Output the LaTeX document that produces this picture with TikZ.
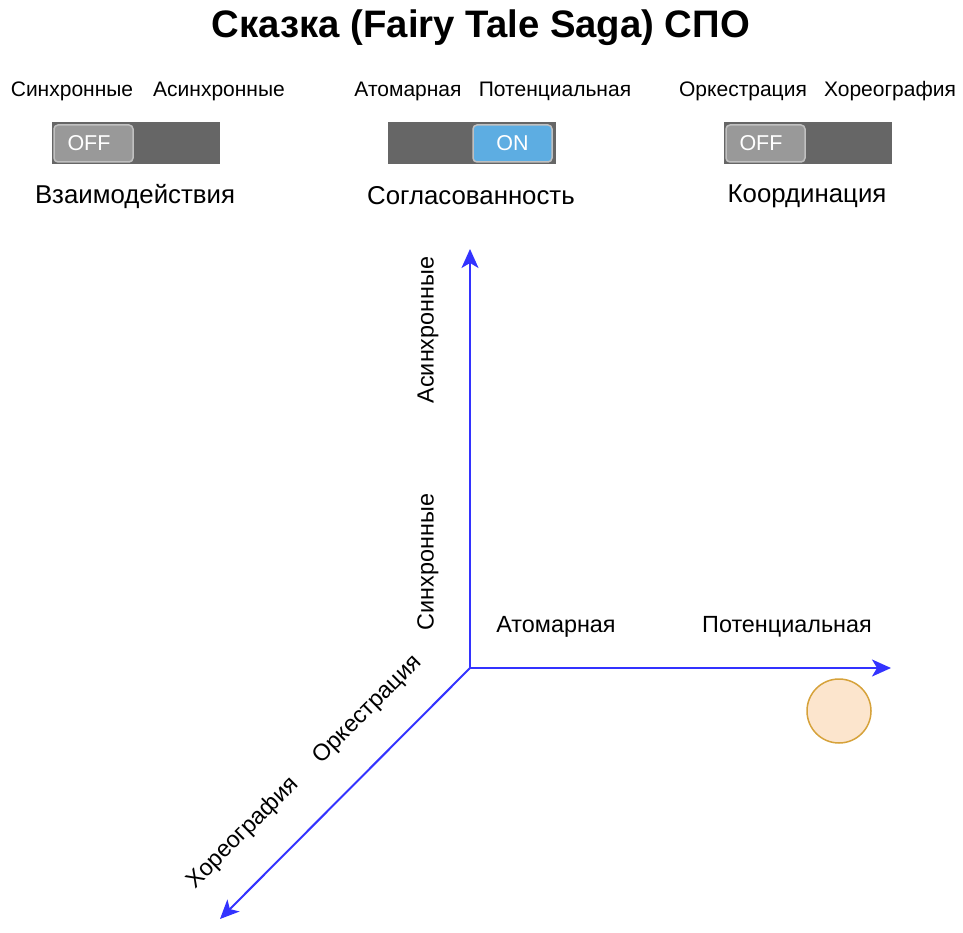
\documentclass[tikz,border=0pt]{standalone}
\usepackage{fontspec}
\setmainfont{Liberation Sans}
\usetikzlibrary{arrows.meta}
\definecolor{axisblue}{HTML}{3333FF}
\definecolor{bardark}{HTML}{666666}
\definecolor{knoboff}{HTML}{999999}
\definecolor{knobon}{HTML}{5DADE2}
\definecolor{knobedge}{HTML}{C0C0C0}
\definecolor{dotfill}{HTML}{FCE5CD}
\definecolor{dotedge}{HTML}{D6A23A}
\begin{document}
\begin{tikzpicture}[x=1pt,y=-1pt,
  titletext/.style={font=\bfseries\fontsize{38.3}{42}\selectfont, inner sep=0pt},
  optlabel/.style={font=\fontsize{21}{25}\selectfont, inner sep=0pt},
  grouplabel/.style={font=\fontsize{25.8}{30}\selectfont, inner sep=0pt},
  axislabel/.style={font=\fontsize{23.4}{28}\selectfont, inner sep=0pt},
  bar/.style={fill=bardark, draw=none, minimum width=168pt, minimum height=42pt, inner sep=0pt},
  knob/.style={draw=knobedge, line width=1.5pt, rounded corners=4pt, minimum width=79pt, minimum height=37pt, inner sep=0pt, text=white, font=\fontsize{21.5}{25}\selectfont},
  knoboffst/.style={knob, fill=knoboff},
  knobonst/.style={knob, fill=knobon},
  axis/.style={draw=axisblue, line width=2pt, -{Stealth[length=19pt,width=17pt,inset=5pt]}},
  dot/.style={circle, fill=dotfill, draw=dotedge, line width=1.5pt, minimum size=64pt, inner sep=0pt}
]
\useasboundingbox (0,0) rectangle (963,933);

\node[titletext] (title) at (481,28) {Сказка (Fairy Tale Saga) СПО};

% option labels
\node[optlabel] (o1a) at (72,91) {Синхронные};
\node[optlabel] (o1b) at (219,91) {Асинхронные};
\node[optlabel] (o2a) at (408,91) {Атомарная};
\node[optlabel] (o2b) at (555,91) {Потенциальная};
\node[optlabel] (o3a) at (743,91) {Оркестрация};
\node[optlabel] (o3b) at (890,91) {Хореография};

% toggles
\node[bar] (bar1) at (136,143.5) {};
\node[knoboffst] (knob1) at (93.5,143.5) {};
\node[text=white, font=\fontsize{21.5}{25}\selectfont, inner sep=0pt] (knob1t) at (89,143.5) {OFF};
\node[bar] (bar2) at (471.5,143.5) {};
\node[knobonst] (knob2) at (512.5,143.5) {ON};
\node[bar] (bar3) at (807.5,143.5) {};
\node[knoboffst] (knob3) at (765.5,143.5) {};
\node[text=white, font=\fontsize{21.5}{25}\selectfont, inner sep=0pt] (knob3t) at (761,143.5) {OFF};

% group labels
\node[grouplabel] (g1) at (135,196) {Взаимодействия};
\node[grouplabel] (g2) at (471,196) {Согласованность};
\node[grouplabel] (g3) at (807,196) {Координация};

% axes
\coordinate (origin) at (470,668);
\coordinate (ytip) at (470,249);
\coordinate (xtip) at (891,668);
\coordinate (ztip) at (220,919);
\draw[axis] (origin) -- (ytip);
\draw[axis] (origin) -- (xtip);
\draw[axis] (origin) -- (ztip);

\node[axislabel, rotate=90] (yhi) at (428,330) {Асинхронные};
\node[axislabel, rotate=90] (ylo) at (428,562) {Синхронные};
\node[axislabel] (xlo) at (556,627) {Атомарная};
\node[axislabel] (xhi) at (787,627) {Потенциальная};
\node[axislabel, rotate=45] (zlo) at (368,710) {Оркестрация};
\node[axislabel, rotate=45] (zhi) at (243,833) {Хореография};

\node[dot] (point) at (839,711) {};
\end{tikzpicture}
\end{document}
